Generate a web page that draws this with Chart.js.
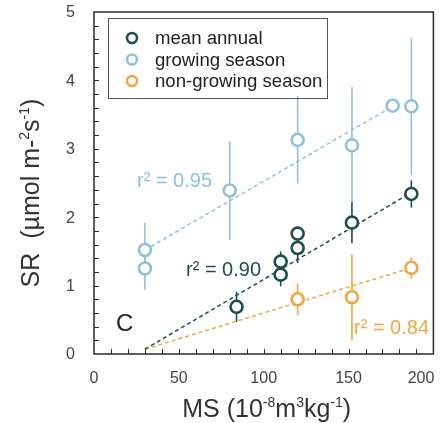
<!DOCTYPE html>
<html>
<head>
<meta charset="utf-8">
<script src="https://cdn.jsdelivr.net/npm/chart.js@4"></script>
<style>
  html, body { margin: 0; padding: 0; background: #fff; }
  #wrap { width: 442px; height: 423px; }
</style>
</head>
<body>
<div id="wrap"><canvas id="myChart" width="442" height="423"></canvas></div>
<script>
// datos
const growX = [30, 30, 80, 120, 152, 176, 187];
const growY = [1.52, 1.25, 2.39, 3.13, 3.05, 3.63, 3.62];
const growErr = [0.40, 0.31, 0.72, 0.64, 0.85, 0, 1.0];

const meanX = [84, 110, 110, 120, 120, 152, 187];
const meanY = [0.69, 1.35, 1.16, 1.55, 1.76, 1.92, 2.34];
const meanErr = [0.22, 0.15, 0.17, 0.22, 0.10, 0.30, 0.20];

const nonX = [120, 152, 187];
const nonY = [0.80, 0.83, 1.26];
const nonErr = [0.23, 0.63, 0.16];

// rectas de ajuste (extremos)
const growFitX = [30, 176];
const growFitY = [1.52, 3.62];
const meanFitX = [30, 187];
const meanFitY = [0.07, 2.36];
const nonFitX = [30, 187];
const nonFitY = [0.07, 1.26];

const xTicks = [0, 50, 100, 150, 200];
const yTicks = [0, 1, 2, 3, 4, 5];

const cDark = "#1e4c55";
const cLight = "#8fc1dd";
const cOrange = "#f1a73f";
const FONT = "'Liberation Sans', Arial, sans-serif";

function toPts(xs, ys) {
    return xs.map((x, i) => ({ x: x, y: ys[i] }));
}

function pointSet(label, xs, ys, color) {
    return {
        label: label,
        data: toPts(xs, ys),
        showLine: false,
        pointRadius: 6,
        pointHoverRadius: 6,
        pointBorderWidth: 2.6,
        borderColor: color,
        backgroundColor: "#fff",
        order: 0
    };
}

function fitSet(xs, ys, color) {
    return {
        type: "line",
        data: toPts(xs, ys),
        borderColor: color,
        borderWidth: 1.5,
        borderDash: [4, 3],
        pointRadius: 0,
        fill: false,
        order: 2
    };
}

// barras de error, ticks hacia dentro, textos
const extras = {
    id: "extras",
    beforeDatasetsDraw(chart) {
        const ctx = chart.ctx;
        const xs = chart.scales.x, ys = chart.scales.y;
        const bars = [
            [growX, growY, growErr, cLight],
            [meanX, meanY, meanErr, cDark],
            [nonX, nonY, nonErr, cOrange]
        ];
        ctx.save();
        bars.forEach(([bx, by, be, col]) => {
            ctx.strokeStyle = col;
            ctx.lineWidth = 1.6;
            bx.forEach((x, i) => {
                if (!be[i]) return;
                const px = xs.getPixelForValue(x);
                ctx.beginPath();
                ctx.moveTo(px, ys.getPixelForValue(by[i] - be[i]));
                ctx.lineTo(px, ys.getPixelForValue(by[i] + be[i]));
                ctx.stroke();
            });
        });
        ctx.restore();
    },
    afterDraw(chart) {
        const ctx = chart.ctx;
        const a = chart.chartArea;
        const xs = chart.scales.x, ys = chart.scales.y;
        ctx.save();

        // marco
        ctx.strokeStyle = "#2b2b2b";
        ctx.lineWidth = 1.5;
        ctx.strokeRect(a.left, a.top, a.right - a.left, a.bottom - a.top);

        // ticks
        ctx.lineWidth = 1;
        ctx.beginPath();
        for (let v = 10; v < 200; v += 10) {
            const px = Math.round(xs.getPixelForValue(v)) + 0.5;
            ctx.moveTo(px, a.bottom);
            ctx.lineTo(px, a.bottom - 5);
        }
        for (let k = 1; k < 25; k++) {
            const py = Math.round(ys.getPixelForValue(k * 0.2)) + 0.5;
            ctx.moveTo(a.left, py);
            ctx.lineTo(a.left + 5, py);
        }
        ctx.stroke();

        // etiquetas de los ejes
        ctx.fillStyle = "#444";
        ctx.font = "16px " + FONT;
        ctx.textBaseline = "middle";
        ctx.textAlign = "right";
        yTicks.forEach(v => ctx.fillText(String(v), 75, ys.getPixelForValue(v) + 1));
        ctx.textAlign = "center";
        xTicks.forEach(v => {
            let px = xs.getPixelForValue(v);
            if (v === 200) px = Math.min(px, 442 - 21);
            ctx.fillText(String(v), px, 379);
        });

        // titulos con superindices
        drawRich(ctx, [["MS (10", 0], ["-8", 1], ["m", 0], ["3", 1], ["kg", 0], ["-1", 1], [")", 0]],
            (a.left + a.right) / 2 + 3, 417, 25, 14, "#333");
        ctx.save();
        ctx.translate(39, 193);
        ctx.rotate(-Math.PI / 2);
        drawRich(ctx, [["SR  (\u00b5mol m-", 0], ["2", 1], ["s", 0], ["-1", 1], [")", 0]],
            0, 0, 25, 14, "#333");
        ctx.restore();

        // anotaciones
        ctx.textAlign = "left";
        ctx.textBaseline = "alphabetic";
        ctx.font = "20px " + FONT;
        ctx.fillStyle = cLight;
        ctx.fillText("r\u00b2 = 0.95", 137, 187);
        ctx.fillStyle = cDark;
        ctx.fillText("r\u00b2 = 0.90", 186, 276);
        ctx.fillStyle = cOrange;
        ctx.fillText("r\u00b2 = 0.84", 354, 334);
        ctx.fillStyle = "#222";
        ctx.font = "24px " + FONT;
        ctx.fillText("C", 116, 331);

        // leyenda
        ctx.strokeStyle = "#555";
        ctx.lineWidth = 1;
        ctx.strokeRect(108.5, 18.5, 219, 80);
        const items = [["mean annual", cDark], ["growing season", cLight], ["non-growing season", cOrange]];
        ctx.font = "18.6px " + FONT;
        ctx.textBaseline = "middle";
        items.forEach(([txt, col], i) => {
            const y = 38 + i * 21.5;
            ctx.beginPath();
            ctx.arc(132, y, 5, 0, Math.PI * 2);
            ctx.fillStyle = "#fff";
            ctx.fill();
            ctx.strokeStyle = col;
            ctx.lineWidth = 2.6;
            ctx.stroke();
            ctx.fillStyle = "#222";
            ctx.fillText(txt, 155, y + 1);
        });
        ctx.restore();
    }
};

function drawRich(ctx, parts, cx, baseline, big, small, color) {
    let total = 0;
    parts.forEach(([t, sup]) => {
        ctx.font = (sup ? small : big) + "px " + FONT;
        total += ctx.measureText(t).width;
    });
    let x = cx - total / 2;
    ctx.fillStyle = color;
    ctx.textAlign = "left";
    ctx.textBaseline = "alphabetic";
    parts.forEach(([t, sup]) => {
        ctx.font = (sup ? small : big) + "px " + FONT;
        ctx.fillText(t, x, sup ? baseline - big * 0.42 : baseline);
        x += ctx.measureText(t).width;
    });
}

new Chart(document.getElementById("myChart").getContext("2d"), {
    type: "scatter",
    data: {
        datasets: [
            pointSet("mean annual", meanX, meanY, cDark),
            pointSet("growing season", growX, growY, cLight),
            pointSet("non-growing season", nonX, nonY, cOrange),
            fitSet(growFitX, growFitY, cLight),
            fitSet(meanFitX, meanFitY, cDark),
            fitSet(nonFitX, nonFitY, cOrange)
        ]
    },
    options: {
        responsive: false,
        animation: false,
        layout: { padding: { top: 12, right: 8, left: 0, bottom: 0 } },
        scales: {
            x: {
                type: "linear", min: 0, max: 200,
                grid: { display: false }, border: { display: false },
                ticks: { display: false },
                afterFit: s => { s.height = 69; }
            },
            y: {
                type: "linear", min: 0, max: 5,
                grid: { display: false }, border: { display: false },
                ticks: { display: false },
                afterFit: s => { s.width = 94; }
            }
        },
        plugins: {
            legend: { display: false },
            tooltip: { enabled: false }
        }
    },
    plugins: [extras]
});
</script>
</body>
</html>
